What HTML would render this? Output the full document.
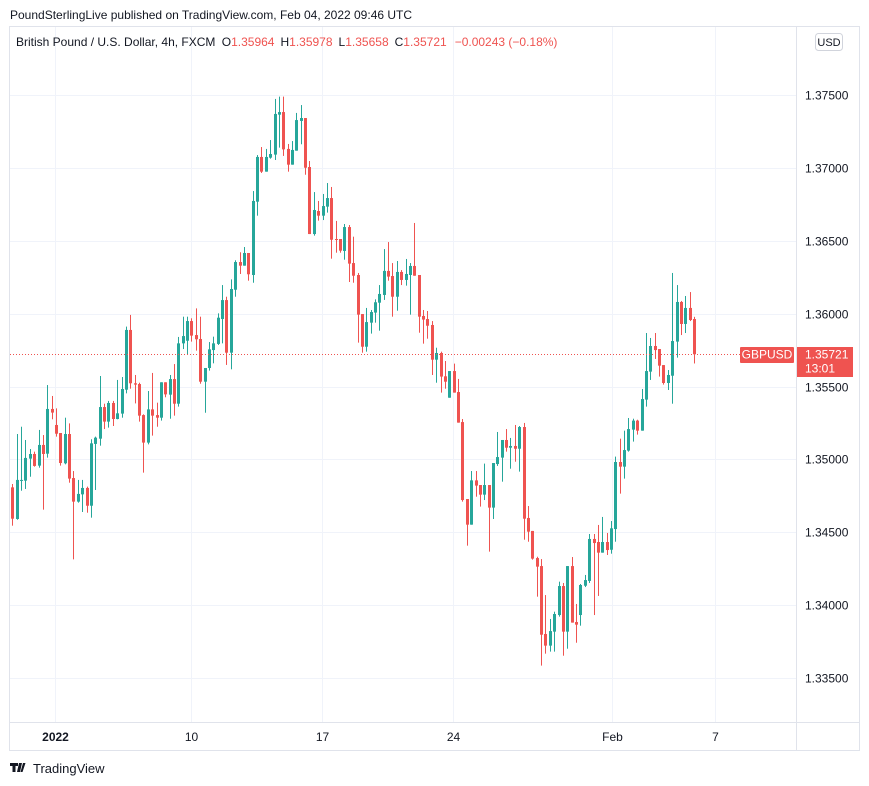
<!DOCTYPE html>
<html><head><meta charset="utf-8">
<style>
html,body{margin:0;padding:0;background:#fff;}
svg{display:block;font-family:"Liberation Sans",sans-serif;}
</style></head>
<body>
<svg id="chart" width="869" height="786" viewBox="0 0 869 786">
  <text x="10" y="19" font-size="12" fill="#131722">PoundSterlingLive published on TradingView.com, Feb 04, 2022 09:46 UTC</text>
  <rect x="9.5" y="26.5" width="850" height="724" fill="#fff" stroke="#e0e3eb"/>
  <g id="grid"></g>
  <line x1="796.5" y1="27" x2="796.5" y2="750" stroke="#e0e3eb"/>
  <line x1="10" y1="722.5" x2="859" y2="722.5" stroke="#e0e3eb"/>
  <g id="yticks"></g>
  <g id="xticks"></g>
  <g id="candles"></g>
  <g id="lastprice"></g>
  <text x="16" y="46" font-size="12" fill="#131722">British Pound / U.S. Dollar, 4h, FXCM <tspan dx="3">O</tspan><tspan fill="#ef5350">1.35964</tspan><tspan dx="6">H</tspan><tspan fill="#ef5350">1.35978</tspan><tspan dx="6">L</tspan><tspan fill="#ef5350">1.35658</tspan><tspan dx="6">C</tspan><tspan fill="#ef5350">1.35721</tspan><tspan dx="8" fill="#ef5350">−0.00243 (−0.18%)</tspan></text>
  <rect x="815.5" y="33.5" width="27" height="17" rx="3" fill="#fff" stroke="#d1d4dc"/>
  <text x="829" y="46" font-size="11" fill="#131722" text-anchor="middle">USD</text>
  <g>
    <path d="M10 763h8v3h-2.5v6h-3v-6H10z M19 763h3l-2 9h-3z M23 763h2.5l-3 9h-2z" fill="#131722"/>
    <text x="33" y="773" font-size="13" fill="#131722">TradingView</text>
  </g>
</svg>
<script>
const NS="http://www.w3.org/2000/svg";
const opens=[1.34808,1.34591,1.34854,1.34854,1.35005,1.35037,1.34957,1.35099,1.35039,1.35346,1.35236,1.35181,1.34973,1.35174,1.34872,1.34710,1.34760,1.34804,1.34682,1.35106,1.35142,1.35359,1.35259,1.35387,1.35277,1.35314,1.35478,1.35888,
1.35522,1.35517,1.35304,1.35115,1.35343,1.35304,1.35286,1.35529,1.35444,1.35551,1.35382,1.35796,1.35814,1.35949,1.35853,1.35826,1.35533,1.35627,1.35750,1.35792,1.35963,1.36093,1.35732,1.36164,1.36354,1.36329,1.36416,
1.36265,1.36768,1.37075,1.36974,1.37070,1.37091,1.37365,1.37383,1.37130,1.37022,1.37118,1.37322,1.37342,1.37006,1.36546,1.36704,1.36672,1.36734,1.36793,1.36512,1.36512,1.36430,1.36594,1.36347,1.36265,1.35997,1.35773,
1.35938,1.36007,1.36075,1.36128,1.36293,1.36258,1.36116,1.36286,1.36231,1.36265,1.36327,1.36265,1.35984,1.35963,1.35922,1.35684,1.35730,1.35570,1.35423,1.35606,1.35462,1.35256,1.34728,1.34552,1.34856,1.34824,1.34758,1.34824,
1.34669,1.34968,1.35012,1.35133,1.35080,1.35092,1.35073,1.35222,1.34598,1.34509,1.34323,1.34268,1.33802,1.33722,1.33818,1.33932,1.34131,1.33818,1.34268,1.33884,1.33932,1.34133,1.34166,1.34454,1.34433,1.34360,1.34433,
1.34380,1.34522,1.34982,1.34950,1.35060,1.35204,1.35266,1.35197,1.35410,1.35602,1.35778,1.35757,1.35647,1.35524,1.35574,1.35808,1.36080,1.35929,1.36039,1.35963];
const highs=[1.34831,1.35174,1.35224,1.35133,1.35071,1.35053,1.35202,1.35167,1.35510,1.35435,1.35350,1.35181,1.35286,1.35247,1.34920,1.34859,1.34859,1.34813,1.35138,1.35156,1.35572,1.35382,1.35401,1.35401,1.35545,1.35565,1.35911,1.35991,
1.35579,1.35526,1.35309,1.35469,1.35593,1.35389,1.35529,1.35529,1.35579,1.35654,1.35840,1.35979,1.35979,1.35968,1.36036,1.35979,1.35627,1.35805,1.35842,1.36002,1.36196,1.36116,1.36235,1.36366,1.36421,1.36457,1.36416,
1.36841,1.37088,1.37143,1.37130,1.37191,1.37473,1.37489,1.37489,1.37164,1.37184,1.37377,1.37431,1.37342,1.37047,1.36834,1.36773,1.36821,1.36896,1.36869,1.36636,1.36512,1.36615,1.36608,1.36528,1.36279,1.35997,1.36039,
1.36025,1.36098,1.36196,1.36443,1.36491,1.36347,1.36361,1.36299,1.36375,1.36347,1.36622,1.36265,1.36025,1.36018,1.35949,1.35766,1.35739,1.35675,1.35606,1.35657,1.35552,1.35277,1.34728,1.34920,1.34920,1.34824,1.34971,1.34824,
1.34975,1.35188,1.35133,1.35208,1.35147,1.35236,1.35229,1.35250,1.34680,1.34509,1.34332,1.34316,1.34069,1.33905,1.33955,1.34161,1.34152,1.34268,1.34330,1.34008,1.34145,1.34207,1.34488,1.34488,1.34550,1.34605,1.34495,
1.34577,1.35019,1.35142,1.35197,1.35284,1.35279,1.35272,1.35483,1.35867,1.35833,1.35867,1.35757,1.35647,1.35613,1.36279,1.36196,1.36087,1.36121,1.36148,1.35978];
const lows=[1.34545,1.34586,1.34785,1.34797,1.34881,1.34950,1.34943,1.34655,1.35012,1.35275,1.35156,1.34957,1.34966,1.34840,1.34314,1.34703,1.34639,1.34634,1.34600,1.34790,1.35094,1.35208,1.35218,1.35229,1.35275,1.35286,1.35453,1.35485,
1.35384,1.35259,1.34909,1.35103,1.35163,1.35224,1.35266,1.35426,1.35279,1.35300,1.35362,1.35757,1.35721,1.35808,1.35746,1.35519,1.35320,1.35609,1.35659,1.35785,1.35796,1.35648,1.35618,1.36116,1.36272,1.36329,1.36226,
1.36212,1.36672,1.36965,1.36974,1.37063,1.37054,1.37139,1.37082,1.36974,1.37022,1.37118,1.37162,1.36953,1.36546,1.36535,1.36638,1.36642,1.36693,1.36377,1.36418,1.36418,1.36370,1.36217,1.36212,1.35801,1.35732,1.35739,
1.35863,1.35938,1.35883,1.36094,1.36226,1.35979,1.36020,1.36196,1.36192,1.35993,1.36260,1.35869,1.35794,1.35828,1.35579,1.35526,1.35458,1.35485,1.35423,1.35458,1.35252,1.34710,1.34408,1.34552,1.34744,1.34676,1.34721,1.34367,
1.34591,1.34955,1.34847,1.35053,1.34936,1.34984,1.34916,1.34449,1.34435,1.34312,1.34058,1.33585,1.33667,1.33681,1.33681,1.33921,1.33653,1.33701,1.33880,1.33742,1.33859,1.34124,1.34152,1.33932,1.34063,1.34360,1.34344,
1.34353,1.34435,1.34765,1.34868,1.35053,1.35122,1.35170,1.35197,1.35362,1.35545,1.35689,1.35568,1.35513,1.35476,1.35382,1.35698,1.35853,1.35867,1.35949,1.35658];
const closes=[1.34593,1.34859,1.34859,1.35010,1.35037,1.34955,1.35099,1.35037,1.35346,1.35321,1.35176,1.34975,1.35174,1.34868,1.34710,1.34763,1.34804,1.34682,1.35110,1.35149,1.35359,1.35259,1.35387,1.35277,1.35316,1.35483,1.35888,1.35522,
1.35513,1.35300,1.35115,1.35343,1.35300,1.35286,1.35529,1.35446,1.35551,1.35382,1.35796,1.35846,1.35949,1.35849,1.35824,1.35533,1.35627,1.35755,1.35796,1.35972,1.36093,1.35732,1.36169,1.36354,1.36329,1.36416,1.36270,
1.36773,1.37075,1.36974,1.37075,1.37095,1.37370,1.37383,1.37127,1.37022,1.37123,1.37328,1.37342,1.37001,1.36546,1.36711,1.36672,1.36738,1.36793,1.36507,1.36507,1.36432,1.36594,1.36343,1.36260,1.35993,1.35773,1.35942,
1.36011,1.36078,1.36135,1.36293,1.36254,1.36116,1.36286,1.36231,1.36272,1.36327,1.36260,1.35979,1.35959,1.35917,1.35684,1.35730,1.35568,1.35533,1.35606,1.35458,1.35252,1.34721,1.34552,1.34856,1.34820,1.34758,1.34824,1.34669,
1.34975,1.35016,1.35133,1.35080,1.35092,1.35073,1.35222,1.34593,1.34504,1.34319,1.34264,1.33797,1.33722,1.33822,1.33939,1.34131,1.33818,1.34268,1.33880,1.33866,1.34138,1.34172,1.34454,1.34426,1.34360,1.34433,1.34378,
1.34527,1.34982,1.34950,1.35064,1.35208,1.35266,1.35197,1.35414,1.35606,1.35778,1.35750,1.35643,1.35524,1.35579,1.35812,1.36080,1.35929,1.36039,1.35956,1.35721];
const priceTicks=[1.375,1.370,1.365,1.360,1.355,1.350,1.345,1.340,1.335];
const timeLabels=["2022","10","17","24","Feb","7"];
const timeIndex=[9.8,40.9,70.9,100.9,137.2,160.8];
const lastPrice=1.35721;

const X0=12.3, DX=4.37;
function xs(i){return X0+i*DX;}
function ys(p){return 95+(1.375-p)*14575;}
function mk(tag,attrs,parent){const e=document.createElementNS(NS,tag);for(const k in attrs)e.setAttribute(k,attrs[k]);parent.appendChild(e);return e;}

const grid=document.getElementById('grid');
const yt=document.getElementById('yticks');
priceTicks.forEach(p=>{
  const y=Math.round(ys(p))+0.5;
  const l=mk('line',{x1:10,x2:796,y1:y,y2:y,stroke:'#f0f3fa'},grid);
  
  
  const t=mk('text',{x:805,y:y+4,'font-size':12,fill:'#131722'},yt);
  t.textContent=p.toFixed(5);
  
  
});
const xt=document.getElementById('xticks');
timeLabels.forEach((s,k)=>{
  const x=Math.round(xs(timeIndex[k]))+0.5;
  const l=mk('line',{x1:x,x2:x,y1:27,y2:722,stroke:'#f0f3fa'},grid);
  
  
  const t=mk('text',{x:x,y:741,'font-size':12,fill:'#131722','text-anchor':'middle','font-weight':k===0?'bold':'normal'},xt);
  t.textContent=s;
  
  
});

const cg=document.getElementById('candles');
for(let i=0;i<opens.length;i++){
  const up=closes[i]>=opens[i];
  const col=up?'#26a69a':'#ef5350';
  const x=xs(i);
  const g=mk('g',{},cg);
  
  
  mk('rect',{x:Math.round(x),y:ys(highs[i]),width:1,height:Math.max(1,ys(lows[i])-ys(highs[i])),fill:col},g);
  const top=ys(Math.max(opens[i],closes[i])),bot=ys(Math.min(opens[i],closes[i]));
  mk('rect',{x:Math.round(x)-1,y:top,width:3,height:Math.max(1,bot-top),fill:col},g);
}

const lp=document.getElementById('lastprice');
const ly=Math.round(ys(lastPrice))+0.5;
const dl=mk('line',{x1:10,x2:796,y1:ly,y2:ly,stroke:'#ef5350','stroke-dasharray':'1,2'},lp);


const sb=mk('rect',{x:740,y:ly-7.5,width:54,height:16,rx:1,fill:'#ef5350'},lp);


const st=mk('text',{x:767,y:ly+4,'font-size':12,fill:'#fff','text-anchor':'middle'},lp);
st.textContent='GBPUSD';


const pb=mk('rect',{x:797,y:ly-7.5,width:56,height:30,fill:'#ef5350'},lp);


const pt=mk('text',{x:805,y:ly+4,'font-size':12,fill:'#fff'},lp);
pt.textContent=lastPrice.toFixed(5);


const ct=mk('text',{x:805,y:ly+18,'font-size':12,fill:'#fff'},lp);
ct.textContent='13:01';


</script>
</body></html>
